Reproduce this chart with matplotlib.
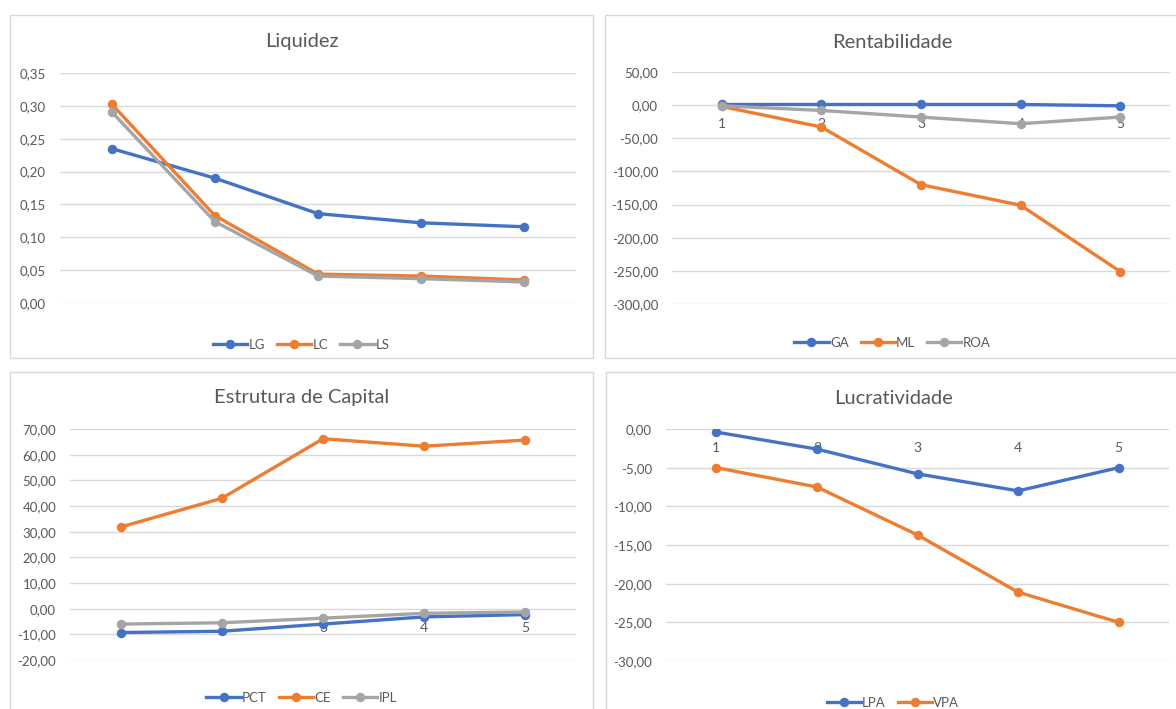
import matplotlib
matplotlib.use("Agg")
import numpy as np
import matplotlib.pyplot as plt
from matplotlib.patches import Rectangle
from matplotlib.ticker import FuncFormatter
from matplotlib.lines import Line2D

plt.rcParams['font.family'] = ['Lato', 'DejaVu Sans']

# --- data -----------------------------------------------------------------
periods = [1, 2, 3, 4, 5]

liq_LG = [0.235, 0.190, 0.136, 0.122, 0.116]
liq_LC = [0.303, 0.133, 0.044, 0.041, 0.035]
liq_LS = [0.291, 0.124, 0.041, 0.037, 0.032]

rent_GA = [1.0, 1.0, 1.0, 1.0, -1.0]
rent_ML = [-2.0, -33.0, -120.0, -151.0, -251.0]
rent_ROA = [-1.0, -8.0, -18.0, -28.0, -18.0]

cap_PCT = [-9.3, -8.8, -6.0, -3.2, -2.3]
cap_CE = [31.8, 43.0, 66.2, 63.3, 65.7]
cap_IPL = [-6.0, -5.5, -3.7, -1.8, -1.3]

luc_LPA = [-0.4, -2.6, -5.8, -8.0, -5.0]
luc_VPA = [-5.0, -7.5, -13.7, -21.1, -25.0]

# --- styling --------------------------------------------------------------
W, H = 1176, 709
BLUE, ORANGE, GRAY = '#4472C4', '#ED7D31', '#A5A5A5'
TXT = '#595959'
GRID = '#D9D9D9'

fig = plt.figure(figsize=(W / 100, H / 100), dpi=100)
fig.patch.set_facecolor('white')


def px_axes(x0, y0, x1, y1):
    """Axes from pixel box (top-left origin)."""
    return fig.add_axes([x0 / W, 1 - y1 / H, (x1 - x0) / W, (y1 - y0) / H])


def frame(x0, y0, x1, y1):
    fig.patches.append(Rectangle((x0 / W, 1 - y1 / H), (x1 - x0) / W, (y1 - y0) / H,
                                 transform=fig.transFigure, fill=False,
                                 edgecolor=GRID, linewidth=1.0, zorder=0))


def comma_fmt(decimals):
    return FuncFormatter(lambda v, p: f"{v:.{decimals}f}".replace('.', ','))


def panel(box, frame_box, title, title_y, series, ylim, step, decimals,
          legend_y, show_cats=True):
    frame(*frame_box)
    ax = px_axes(*box)
    for name, vals, col in series:
        ax.plot(periods, vals, color=col, lw=2.4, marker='o', ms=5.8,
                solid_capstyle='round', label=name, zorder=3)
    ax.set_xlim(0.5, 5.5)
    ax.set_ylim(*ylim)
    ax.set_yticks(np.arange(ylim[0], ylim[1] + step / 2, step))
    ax.yaxis.set_major_formatter(comma_fmt(decimals))
    ax.grid(axis='y', color=GRID, lw=1.0, zorder=0)
    ax.set_axisbelow(True)
    for s in ax.spines.values():
        s.set_visible(False)
    ax.tick_params(axis='y', length=0, labelsize=9.5, labelcolor=TXT, pad=10)
    ax.set_xticks(periods)
    if show_cats:
        ax.spines['bottom'].set_position(('data', 0))
        ax.tick_params(axis='x', length=0, labelsize=10, labelcolor=TXT, pad=9.5)
    else:
        ax.tick_params(axis='x', length=0, labelbottom=False)
    ax.set_facecolor('none')
    fx0, fy0, fx1, fy1 = frame_box
    cx = (fx0 + fx1) / 2
    fig.text(cx / W, 1 - title_y / H, title, ha='center', va='center',
             fontsize=14.5, color=TXT)
    handles = [Line2D([], [], color=c, lw=2.4, marker='o', ms=5.8) for _, _, c in series]
    fig.legend(handles, [n for n, _, _ in series], loc='center',
               bbox_to_anchor=(cx / W, 1 - legend_y / H), ncol=len(series),
               frameon=False, fontsize=9.5, labelcolor=TXT, handlelength=2.6,
               handletextpad=0.1, columnspacing=0.9)
    return ax


panel((60, 73, 576, 303), (10, 15, 593, 358), 'Liquidez', 42,
      [('LG', liq_LG, BLUE), ('LC', liq_LC, ORANGE), ('LS', liq_LS, GRAY)],
      (0, 0.35), 0.05, 2, 345, show_cats=False)

panel((672, 72, 1170, 304), (605, 15, 1180, 358), 'Rentabilidade', 42,
      [('GA', rent_GA, BLUE), ('ML', rent_ML, ORANGE), ('ROA', rent_ROA, GRAY)],
      (-300, 50), 50, 2, 343)

panel((70, 429, 576, 660), (10, 372, 593, 720), 'Estrutura de Capital', 398,
      [('PCT', cap_PCT, BLUE), ('CE', cap_CE, ORANGE), ('IPL', cap_IPL, GRAY)],
      (-20, 70), 10, 2, 698)

panel((666, 429, 1169, 661), (606, 372, 1180, 720), 'Lucratividade', 398,
      [('LPA', luc_LPA, BLUE), ('VPA', luc_VPA, ORANGE)],
      (-30, 0), 5, 2, 703)

fig.savefig('out.png', dpi=100, facecolor='white')
